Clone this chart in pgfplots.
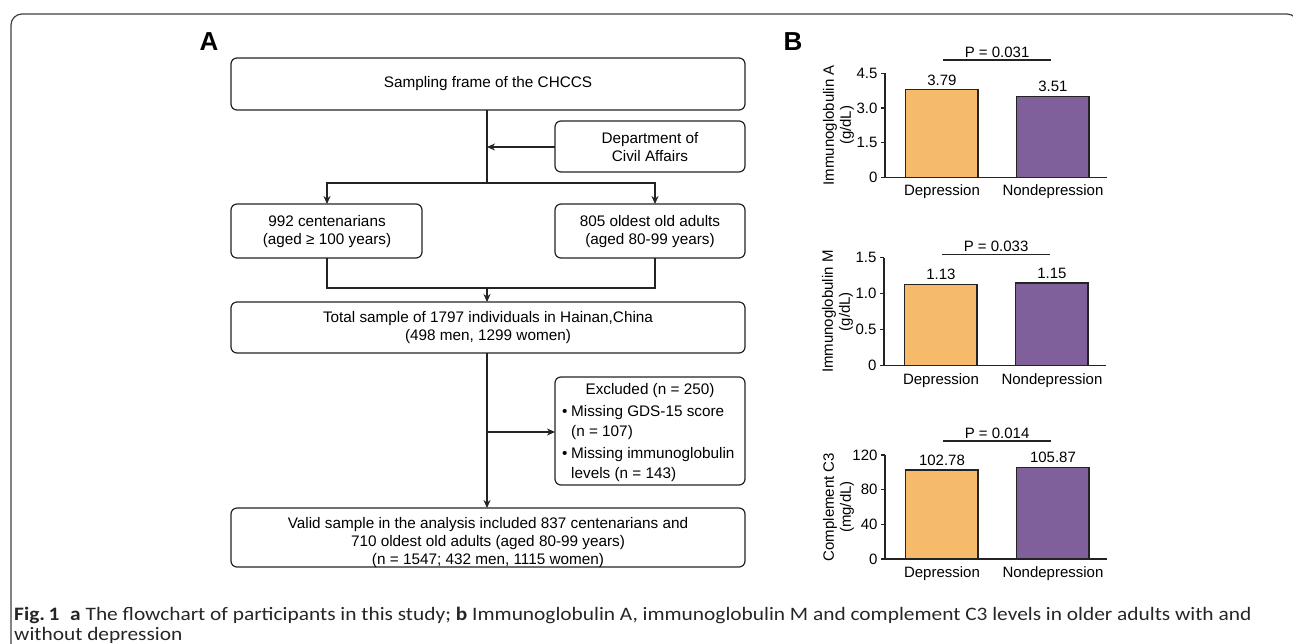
\documentclass[border=0pt]{standalone}
\usepackage{fontspec}
\setmainfont{Liberation Sans}
\newfontfamily\capfont{Carlito}
\usepackage{pgfplots}
\pgfplotsset{compat=1.18}
\usetikzlibrary{arrows.meta}
\definecolor{barorange}{RGB}{246,187,106}
\definecolor{barpurple}{RGB}{127,96,155}
\definecolor{ink}{RGB}{35,35,35}

\pgfplotsset{barax/.style={
  scale only axis, width=222pt,
  xmin=-0.513, xmax=1.487, ymin=0,
  axis lines=left, axis line style={-, line width=1.1pt, ink},
  xtick={0,1}, xticklabels={Depression,Nondepression},
  x tick style={draw=none},
  y tick style={line width=1.1pt, ink},
  tick align=outside, major tick length=4pt,
  tick label style={font=\fontsize{15}{17}\selectfont},
  every axis y label/.style={at={(axis description cs:-0.21,0.5)}, rotate=90, anchor=center, align=center, font=\fontsize{15}{17}\selectfont},
  clip=false,
  nodes near coords, point meta=explicit symbolic,
  every node near coord/.style={font=\fontsize{15}{17}\selectfont, anchor=south, yshift=0.5pt},
}}
\tikzset{
  box/.style={draw=ink, line width=1.2pt, rounded corners=6pt},
  ln/.style={draw=ink, line width=1.2pt},
  arr/.style={draw=ink, line width=1.2pt, -{Stealth[length=8pt,width=7pt]}},
  ft/.style={font=\fontsize{15.3}{18}\selectfont, align=center, inner sep=0pt},
}

\begin{document}
\begin{tikzpicture}
\path[use as bounding box] (0,0) rectangle (1293pt,-643pt);
\begin{scope}[x=1pt,y=-1pt]
  \clip (0,0) rectangle (1293,643);
  \draw[line width=1.2pt, black!75, rounded corners=11pt] (11,700) -- (11,14) -- (1298,14) -- (1298,700);
  % panel labels
  \node[font=\bfseries\fontsize{26}{26}\selectfont, inner sep=0pt] at (209,42) {A};
  \node[font=\bfseries\fontsize{26}{26}\selectfont, inner sep=0pt] at (793,42) {B};
  % flowchart boxes
  \draw[box] (231,58) rectangle (745,110);
  \node[ft] at (488,84) {Sampling frame of the CHCCS};
  \draw[box] (555,121) rectangle (745,172);
  \node[ft] at (650,147) {Department of\\Civil Affairs};
  \draw[box] (231,204) rectangle (422,258);
  \node[ft] at (327,231.5) {992 centenarians\\(aged ≥ 100 years)};
  \draw[box] (555,204) rectangle (745,258);
  \node[ft] at (650,231.5) {805 oldest old adults\\(aged 80-99 years)};
  \draw[box] (231,302) rectangle (745,353);
  \node[ft] at (488,328) {Total sample of 1797 individuals in Hainan,China\\(498 men, 1299 women)};
  \draw[box] (555,377) rectangle (745,485);
  \node[ft, anchor=base] at (650,394) {Excluded (n = 250)};
  \node[ft, anchor=base west] at (562,416) {•};
  \node[ft, anchor=base west] at (571,416) {Missing GDS-15 score};
  \node[ft, anchor=base west] at (571,436.5) {(n = 107)};
  \node[ft, anchor=base west] at (562,458) {•};
  \node[ft, anchor=base west] at (571,458) {Missing immunoglobulin};
  \node[ft, anchor=base west] at (571,478.5) {levels (n = 143)};
  \draw[box] (231,508) rectangle (745,567);
  \node[ft] at (488,543) {Valid sample in the analysis included 837 centenarians and\\710 oldest old adults (aged 80-99 years)\\(n = 1547; 432 men, 1115 women)};
  % connectors
  \draw[ln] (487,110) -- (487,183);
  \draw[arr] (555,147) -- (487,147);
  \draw[arr] (487,183) -| (327,204);
  \draw[arr] (487,183) -| (655,204);
  \draw[ln] (327,258) -- (327,288) -- (655,288) -- (655,258);
  \draw[arr] (487,288) -- (487,302);
  \draw[arr] (487,353) -- (487,508);
  \draw[arr] (487,432) -- (555,432);
  % caption
  \node[anchor=base west, inner sep=0pt, font=\capfont\fontsize{19}{22}\selectfont, text=black!85, xscale=1.125] at (14,620)
    {\textbf{Fig.\,1}\hspace{0.5em}\textbf{a} The flowchart of participants in this study; \textbf{b} Immunoglobulin A, immunoglobulin M and complement C3 levels in older adults with and};
  \node[anchor=base west, inner sep=0pt, font=\capfont\fontsize{19}{22}\selectfont, text=black!85, xscale=1.125] at (14,640.5)
    {without depression};
\end{scope}

% Panel B charts
\begin{axis}[barax, height=104pt, ymax=4.5, ytick={0,1.5,3,4.5}, yticklabels={0,1.5,3.0,4.5},
  ylabel={Immunoglobulin A\\(g/dL)}, at={(885pt,-177.3pt)}, anchor=south west]
  \addplot[ybar, bar width=0.65, bar shift=0pt, fill=barorange, draw=ink, line width=1.2pt] coordinates {(0,3.79) [3.79]};
  \addplot[ybar, bar width=0.65, bar shift=0pt, fill=barpurple, draw=ink, line width=1.2pt] coordinates {(1,3.51) [3.51]};
  \draw[line width=1.1pt, ink] (rel axis cs:0.261,1.128) -- (rel axis cs:0.748,1.128);
  \node[anchor=base, inner sep=0pt, font=\fontsize{15}{17}\selectfont] at (rel axis cs:0.505,1.155) {P = 0.031};
\end{axis}

\begin{axis}[barax, height=108pt, ymax=1.5, ytick={0,0.5,1,1.5}, yticklabels={0,0.5,1.0,1.5},
  ylabel={Immunoglobulin M\\(g/dL)}, at={(884pt,-365.7pt)}, anchor=south west]
  \addplot[ybar, bar width=0.65, bar shift=0pt, fill=barorange, draw=ink, line width=1.2pt] coordinates {(0,1.13) [1.13]};
  \addplot[ybar, bar width=0.65, bar shift=0pt, fill=barpurple, draw=ink, line width=1.2pt] coordinates {(1,1.15) [1.15]};
  \draw[line width=1.1pt, ink] (rel axis cs:0.261,1.031) -- (rel axis cs:0.748,1.031);
  \node[anchor=base, inner sep=0pt, font=\fontsize{15}{17}\selectfont] at (rel axis cs:0.505,1.057) {P = 0.033};
\end{axis}

\begin{axis}[barax, height=104pt, ymax=120, ytick={0,40,80,120}, yticklabels={0,40,80,120},
  ylabel={Complement C3\\(mg/dL)}, at={(885pt,-559pt)}, anchor=south west]
  \addplot[ybar, bar width=0.65, bar shift=0pt, fill=barorange, draw=ink, line width=1.2pt] coordinates {(0,102.78) [102.78]};
  \addplot[ybar, bar width=0.65, bar shift=0pt, fill=barpurple, draw=ink, line width=1.2pt] coordinates {(1,105.87) [105.87]};
  \draw[line width=1.1pt, ink] (rel axis cs:0.261,1.135) -- (rel axis cs:0.748,1.135);
  \node[anchor=base, inner sep=0pt, font=\fontsize{15}{17}\selectfont] at (rel axis cs:0.505,1.162) {P = 0.014};
\end{axis}
\end{tikzpicture}
\end{document}
